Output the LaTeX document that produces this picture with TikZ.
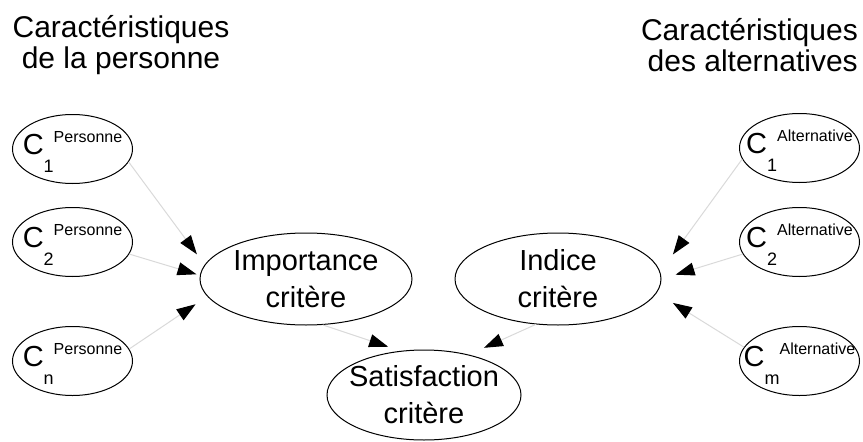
\documentclass[tikz,border=0pt]{standalone}
\usepackage{fontspec}
\setmainfont{Liberation Sans}
\usepackage{tikz}
\usetikzlibrary{shapes, arrows.meta, positioning}

% C with index and superscript label, taking no room in the node
\newcommand{\critlab}[2]{\raisebox{-5.5pt}[0pt][0pt]{\makebox[0pt]{\fontsize{29}{29}\selectfont C\raisebox{-18pt}{\fontsize{18}{18}\selectfont #1}\raisebox{12pt}{\fontsize{16}{16}\selectfont #2}}}}

\begin{document}
\begin{tikzpicture}[x=1pt, y=-1pt,
  small/.style={ellipse, draw, line width=1pt, minimum width=120pt, minimum height=69pt, inner sep=0pt},
  big/.style={ellipse, draw, line width=1pt, inner sep=-8pt, align=center, font=\fontsize{29}{37}\selectfont},
  title/.style={inner sep=0pt, font=\fontsize{30}{31}\selectfont},
  edge/.style={draw=gray!30, line width=1pt, -{Triangle[length=19pt,width=13pt,black]}}]

\useasboundingbox (0,0) rectangle (863,442);

% titles
\node[title, align=center] (tperso) at (121,45) {Caractéristiques\\de la personne};
\node[title, align=right, anchor=east] (talt) at (858,45) {Caractéristiques\\des alternatives};

% person side
\foreach \n/\i/\y in {c1p/1/149, c2p/2/242, cnp/n/361}
\node[small] (\n) at (72.5,\y) {\critlab{\i}{Personne}};

% alternative side
\foreach \n/\i/\y in {c1a/1/148, c2a/2/242, cma/m/361}
\node[small] (\n) at (799.5,\y) {\critlab{\i}{Alternative}};

\node[big, minimum width=212pt, minimum height=92pt] (imp) at (306,279) {Importance\\critère};
\node[big, minimum width=206pt, minimum height=92pt] (ind) at (558,279) {Indice\\critère};
\node[big, minimum width=194pt, minimum height=90pt] (sat) at (424,395) {Satisfaction\\critère};

% connectors
\foreach \a/\b/\s in {c1p.-13/imp.172.5/13pt, c2p.-12/imp.178.4/3.5pt, cnp.12.6/imp.190.7/14pt,
                      imp.-70/sat.118.4/13pt, ind.-116/sat.42.4/16.5pt,
                      c1a.191.3/ind.4.9/21.5pt, c2a.192.2/ind.-0.2/14.7pt, cma.166.9/ind.-8/19pt}
\draw[edge, shorten >=\s] (\a) -- (\b);

\end{tikzpicture}
\end{document}
